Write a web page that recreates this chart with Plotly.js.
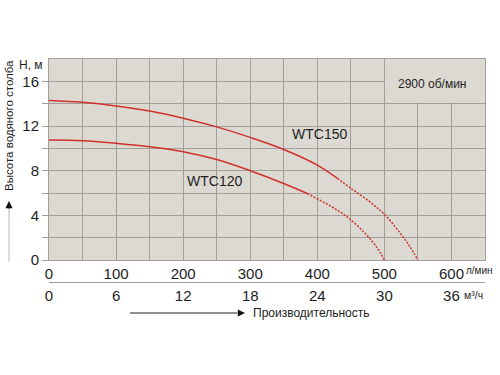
<!DOCTYPE html>
<html>
<head>
<meta charset="utf-8">
<script src="https://cdn.plot.ly/plotly-3.0.1.min.js"></script>
<style>html,body{margin:0;padding:0;background:#fff;}#chart{width:500px;height:375px;}</style>
</head>
<body>
<div id="chart"></div>
<script>
// ---- data ----
var flowTicks = [0, 50, 100, 150, 200, 250, 300, 350, 400, 450, 500, 550, 600];
var flowTickText = ['0', '', '100', '', '200', '', '300', '', '400', '', '500', '', '600'];
var m3hTicks = [0, 6, 12, 18, 24, 30, 36];
var m3hTickText = ['0', '6', '12', '18', '24', '30', '36'];
var headTicks = [0, 2, 4, 6, 8, 10, 12, 14, 16];
var headTickText = ['0', '', '4', '', '8', '', '12', '', '16'];

var wtc150FlowSolid = [0, 50, 100, 150, 200, 250, 300, 350, 400, 430];
var wtc150HeadSolid = [14.28, 14.12, 13.8, 13.34, 12.7, 11.92, 10.98, 9.9, 8.5, 7.31];
var wtc150FlowDash = [430, 450, 478, 501, 523, 538, 550];
var wtc150HeadDash = [7.31, 6.42, 5.22, 4.03, 2.45, 1.2, 0];

var wtc120FlowSolid = [0, 50, 100, 150, 200, 250, 300, 350, 385];
var wtc120HeadSolid = [10.74, 10.68, 10.45, 10.15, 9.7, 9.0, 8.0, 6.85, 5.95];
var wtc120FlowDash = [385, 419, 444, 469, 488, 500];
var wtc120HeadDash = [5.95, 4.85, 3.88, 2.53, 1.19, 0];

// ---- styling ----
var RED = '#d0312d';
var GRID = '#a29e98';
var BG = '#dcd9d2';
var FONT = 'Liberation Sans, Arial, sans-serif';
var TXT = '#1e1e1e';

// layout geometry (pixels) -> paper helpers
var W = 500, H = 375, ML = 49, MR = 15, MT = 59, MB = 93;
var PW = W - ML - MR, PH = H - MT - MB;
function px(x) { return (x - ML) / PW; }
function py(y) { return (H - MB - y) / PH; }

function line(x, y, dash) {
  return {x: x, y: y, type: 'scatter', mode: 'lines', xaxis: 'x', yaxis: 'y',
    line: {color: RED, width: 1.5, dash: dash || 'solid', shape: 'spline', smoothing: 1},
    hoverinfo: 'skip', showlegend: false};
}

var traces = [
  line(wtc150FlowSolid, wtc150HeadSolid),
  line(wtc150FlowDash, wtc150HeadDash, '2px,1.5px'),
  line(wtc120FlowSolid, wtc120HeadSolid),
  line(wtc120FlowDash, wtc120HeadDash, '2px,1.5px'),
  {x: m3hTicks, y: m3hTicks.map(function(){return null;}), xaxis: 'x2', yaxis: 'y',
   type: 'scatter', mode: 'lines', hoverinfo: 'skip', showlegend: false}
];

function txt(text, x, y, size, extra) {
  var a = {text: text, xref: 'paper', yref: 'paper', x: px(x), y: py(y), showarrow: false,
    xanchor: 'center', yanchor: 'middle', borderpad: 0, font: {size: size, color: TXT, family: FONT}};
  for (var k in (extra || {})) a[k] = extra[k];
  return a;
}

var layout = {
  width: W, height: H,
  margin: {l: ML, r: MR, t: MT, b: MB, pad: 0},
  paper_bgcolor: '#ffffff',
  plot_bgcolor: BG,
  showlegend: false,
  font: {family: FONT, color: TXT, size: 15},
  xaxis: {
    range: [0, 650], tickmode: 'array', tickvals: flowTicks, ticktext: flowTickText,
    showgrid: true, gridcolor: GRID, gridwidth: 1, zeroline: false,
    showline: true, mirror: true, linecolor: GRID, linewidth: 1,
    ticks: '', tickfont: {size: 15, color: TXT, family: FONT}, anchor: 'y'
  },
  xaxis2: {
    overlaying: 'x', anchor: 'free', position: 0, side: 'bottom',
    range: [0, 39], tickmode: 'array', tickvals: m3hTicks, ticktext: m3hTickText,
    showgrid: false, zeroline: false, showline: true, linecolor: '#a0a0a0', linewidth: 1,
    ticks: '', tickfont: {size: 15, color: TXT, family: FONT}
  },
  yaxis: {
    domain: [22 / PH, 1], range: [0, 18], tickmode: 'array', tickvals: headTicks, ticktext: headTickText,
    showgrid: true, gridcolor: GRID, gridwidth: 1, zeroline: false,
    showline: true, mirror: true, linecolor: GRID, linewidth: 1,
    ticks: 'outside', ticklen: 6, tickcolor: GRID, tickfont: {size: 15, color: TXT, family: FONT}
  },
  shapes: [
    // blank box behind the speed label
    {type: 'rect', xref: 'x', yref: 'y', x0: 501.2, x1: 650, y0: 14.1, y1: 18,
     fillcolor: BG, line: {width: 0}, layer: 'between'},
    // y-title arrow shaft
    {type: 'line', xref: 'paper', yref: 'paper', x0: px(9), x1: px(9), y0: py(262), y1: py(208),
     line: {color: '#b8b8b8', width: 1}},
    // x-title arrow shaft
    {type: 'line', xref: 'paper', yref: 'paper', x0: px(130), x1: px(237), y0: py(313), y1: py(313),
     line: {color: '#222', width: 1}}
  ],
  annotations: [
    txt('H, м', 31, 65, 12),
    txt('Высота водяного столба', 9, 126, 11.5, {textangle: -90}),
    {text: '', xref: 'paper', yref: 'paper', x: px(9), y: py(201), ax: 0, ay: 9,
     showarrow: true, arrowhead: 2, arrowsize: 1.2, arrowwidth: 1.2, arrowcolor: '#111'},
    {text: '', xref: 'paper', yref: 'paper', x: px(245), y: py(313), ax: -9, ay: 0,
     showarrow: true, arrowhead: 2, arrowsize: 1.2, arrowwidth: 1.2, arrowcolor: '#111'},
    txt('Производительность', 252, 313, 12, {xanchor: 'left'}),
    txt('л/мин', 465, 270, 10, {xanchor: 'left'}),
    txt('м³/ч', 463, 295, 10.5, {xanchor: 'left'}),
    {text: '2900 об/мин', xref: 'x', yref: 'y', x: 571, y: 15.8, showarrow: false,
     font: {size: 12, color: TXT}},
    {text: 'WTC150', xref: 'x', yref: 'y', x: 404, y: 11.28, showarrow: false,
     font: {size: 14, color: TXT}},
    {text: 'WTC120', xref: 'x', yref: 'y', x: 247, y: 7.07, showarrow: false,
     font: {size: 14, color: TXT}}
  ]
};

Plotly.newPlot('chart', traces, layout, {displayModeBar: false, staticPlot: true});
</script>
</body>
</html>
